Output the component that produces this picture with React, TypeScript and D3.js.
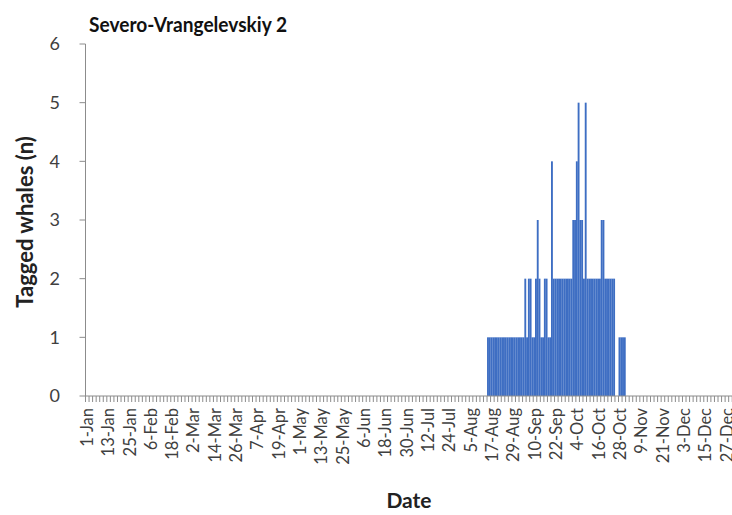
import React, { useRef, useEffect } from 'react';
import * as d3 from 'd3';

// tagged whales per day, Severo-Vrangelevskiy 2 (days not listed = 0)
const activeDates = [
  '15-Aug', '16-Aug', '17-Aug', '18-Aug', '19-Aug', '20-Aug', '21-Aug', '22-Aug', '23-Aug',
  '24-Aug', '25-Aug', '26-Aug', '27-Aug', '28-Aug', '29-Aug', '30-Aug', '31-Aug',
  '1-Sep', '2-Sep', '3-Sep', '4-Sep', '5-Sep', '6-Sep', '7-Sep', '8-Sep', '9-Sep', '10-Sep',
  '11-Sep', '12-Sep', '13-Sep', '14-Sep', '15-Sep', '16-Sep', '17-Sep', '18-Sep', '19-Sep', '20-Sep',
  '21-Sep', '22-Sep', '23-Sep', '24-Sep', '25-Sep', '26-Sep', '27-Sep', '28-Sep', '29-Sep', '30-Sep',
  '1-Oct', '2-Oct', '3-Oct', '4-Oct', '5-Oct', '6-Oct', '7-Oct', '8-Oct', '9-Oct', '10-Oct',
  '11-Oct', '12-Oct', '13-Oct', '14-Oct', '15-Oct', '16-Oct', '17-Oct', '18-Oct', '19-Oct', '20-Oct',
  '21-Oct', '22-Oct', '23-Oct', '24-Oct', '25-Oct', '26-Oct', '27-Oct', '28-Oct', '29-Oct', '30-Oct',
  '31-Oct',
];
const taggedWhales = [
  1, 1, 1, 1, 1, 1, 1, 1, 1, 1, 1, 1, 1, 1, 1, 1, 1,
  1, 1, 1, 1, 2, 1, 2, 2, 1, 1, 2, 3, 2, 1, 1, 2, 2, 1, 1, 4, 2, 2, 2, 2, 2, 2, 2, 2, 2, 2,
  2, 3, 3, 4, 5, 3, 3, 2, 5, 2, 2, 2, 2, 2, 2, 2, 2, 3, 3, 2, 2, 2, 2, 2, 2, 0, 0, 1, 1, 1, 1,
];
const tickLabels = [
  '1-Jan', '13-Jan', '25-Jan', '6-Feb', '18-Feb', '2-Mar', '14-Mar', '26-Mar', '7-Apr', '19-Apr',
  '1-May', '13-May', '25-May', '6-Jun', '18-Jun', '30-Jun', '12-Jul', '24-Jul', '5-Aug', '17-Aug',
  '29-Aug', '10-Sep', '22-Sep', '4-Oct', '16-Oct', '28-Oct', '9-Nov', '21-Nov', '3-Dec', '15-Dec', '27-Dec',
];
const yTicks = [0, 1, 2, 3, 4, 5, 6];

const W = 732;
const H = 515;
const FONT = 'Lato, "Open Sans", sans-serif';
const AXIS = '#8c8c8c';

const App = () => {
  const ref = useRef<SVGSVGElement | null>(null);

  useEffect(() => {
    const svg = d3.select(ref.current);
    svg.selectAll('*').remove();

    const fmt = d3.timeFormat('%-d-%b');
    const days = d3.timeDay.range(new Date(2013, 0, 1), new Date(2014, 0, 1)).map(fmt);
    const lookup = new Map(activeDates.map((d, i) => [d, taggedWhales[i]]));

    const margin = { top: 44, left: 85.5, bottom: 396 };
    const x = d3.scaleBand().domain(days).range([margin.left, 734]).padding(0);
    const y = d3.scaleLinear().domain([0, 6]).range([margin.bottom, margin.top]);

    svg.append('rect').attr('width', W).attr('height', H).attr('fill', '#fff');

    // bars
    svg.append('g')
      .selectAll('rect')
      .data(days.filter(d => (lookup.get(d) || 0) > 0))
      .join('rect')
      .attr('x', d => x(d)!)
      .attr('width', x.bandwidth() + 0.1)
      .attr('y', d => y(lookup.get(d)!))
      .attr('height', d => y(0) - y(lookup.get(d)!))
      .attr('fill', '#3e6ec3');

    // y axis
    const ya = svg.append('g');
    ya.append('line')
      .attr('x1', margin.left).attr('x2', margin.left)
      .attr('y1', y(6)).attr('y2', y(0))
      .attr('stroke', AXIS);
    ya.selectAll('line.t')
      .data(yTicks)
      .join('line')
      .attr('class', 't')
      .attr('x1', margin.left - 6).attr('x2', margin.left)
      .attr('y1', d => y(d)).attr('y2', d => y(d))
      .attr('stroke', AXIS);
    ya.selectAll('text')
      .data(yTicks)
      .join('text')
      .attr('x', 60)
      .attr('y', d => y(d))
      .attr('dy', '0.36em')
      .attr('text-anchor', 'end')
      .attr('font-family', FONT)
      .attr('font-size', 18)
      .attr('fill', '#404040')
      .text(d => d);

    // x axis
    const xa = svg.append('g');
    xa.append('line')
      .attr('x1', margin.left).attr('x2', 734)
      .attr('y1', y(0)).attr('y2', y(0))
      .attr('stroke', AXIS);
    xa.selectAll('line.t')
      .data(days.filter((d, i) => i % 2 === 0))
      .join('line')
      .attr('class', 't')
      .attr('x1', d => x(d)!).attr('x2', d => x(d)!)
      .attr('y1', y(0)).attr('y2', y(0) + 6)
      .attr('stroke', AXIS);
    xa.selectAll('text')
      .data(tickLabels)
      .join('text')
      .attr('transform', d => `translate(${x(d)! + x.bandwidth() / 2 + 6.5},${y(0) + 12}) rotate(-90)`)
      .attr('text-anchor', 'end')
      .attr('font-family', FONT)
      .attr('font-size', 16.5)
      .attr('fill', '#404040')
      .text(d => d);

    // titles
    svg.append('text')
      .attr('x', 89).attr('y', 32)
      .attr('font-family', FONT)
      .attr('font-size', 21.5)
      .attr('font-weight', 'bold')
      .attr('fill', '#111')
      .attr('textLength', 198)
      .attr('lengthAdjust', 'spacingAndGlyphs')
      .text('Severo-Vrangelevskiy 2');
    svg.append('text')
      .attr('transform', `translate(33,${(y(0) + y(6)) / 2 + 2}) rotate(-90)`)
      .attr('text-anchor', 'middle')
      .attr('font-family', FONT)
      .attr('font-size', 22)
      .attr('font-weight', 'bold')
      .attr('fill', '#222')
      .text('Tagged whales (n)');
    svg.append('text')
      .attr('x', 409).attr('y', 508)
      .attr('text-anchor', 'middle')
      .attr('font-family', FONT)
      .attr('font-size', 21)
      .attr('font-weight', 'bold')
      .attr('fill', '#222')
      .text('Date');
  }, []);

  return (
    <svg
      ref={ref}
      width={W}
      height={H}
      style={{ position: 'absolute', left: 0, top: 0, display: 'block' }}
    />
  );
};

export default App;
